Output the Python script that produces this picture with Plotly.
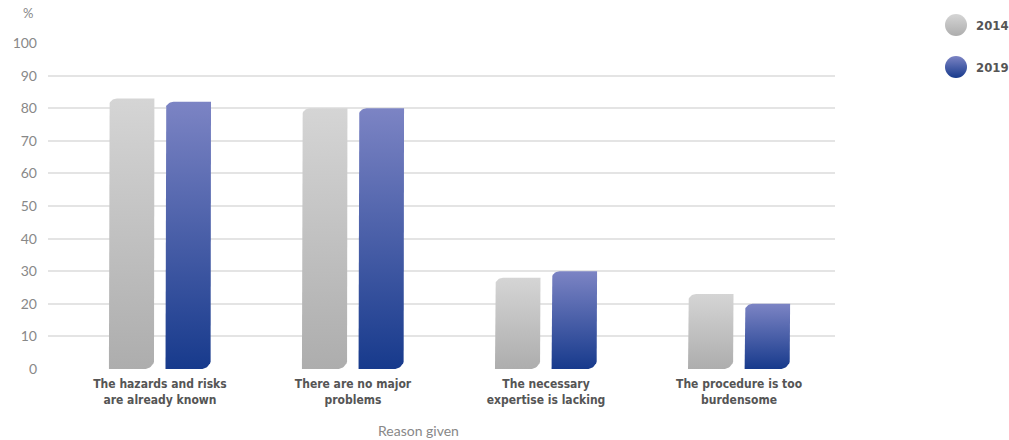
import numpy as np
import plotly.graph_objects as go

categories = ["The hazards and risks<br>are already known",
              "There are no major<br>problems",
              "The necessary<br>expertise is lacking",
              "The procedure is too<br>burdensome"]
years = ["2014", "2019"]
values_2014 = [83, 80, 28, 23]
values_2019 = [82, 80, 30, 20]
y_ticks = [0, 10, 20, 30, 40, 50, 60, 70, 80, 90, 100]

W, H = 1009, 440
ML, MR, MT, MB = 48, 0, 10, 71
plot_left, plot_right = 48, 835
plot_top, plot_bottom = 43, 369
x_range = [-0.58, 3.497]
y_range = [0, 100]
px_x = (plot_right - plot_left) / (x_range[1] - x_range[0])
px_y = (plot_bottom - plot_top) / (y_range[1] - y_range[0])
pw = W - ML - MR
ph = H - MT - MB

bar_w = 45.5 / px_x
offset = 28.3 / px_x
rad_top = 8
rad_bot = 10

styles = {
    "2014": dict(top="#d5d5d5", bottom="#adadad", mid="#c4c4c4"),
    "2019": dict(top="#7c84c4", bottom="#173a8c", mid="#3a52a3"),
}

COND = "DejaVu Sans Condensed, DejaVu Sans, sans-serif"
REG = "Lato, Open Sans, sans-serif"


def px_to_paper(px, py):
    return (px - ML) / pw, (H - MB - py) / ph


def leaf_path(xc, v):
    x0, x1 = xc - bar_w / 2, xc + bar_w / 2
    rxt, ryt = rad_top / px_x, min(rad_top / px_y, v / 2)
    rxb, ryb = rad_bot / px_x, min(rad_bot / px_y, v / 2)
    xs, ys = [x0], [0]
    t = np.linspace(np.pi, np.pi / 2, 12)
    xs += list(x0 + rxt + rxt * np.cos(t))
    ys += list(v - ryt + ryt * np.sin(t))
    xs += [x1]
    ys += [v]
    t = np.linspace(0, -np.pi / 2, 12)
    xs += list(x1 - rxb + rxb * np.cos(t))
    ys += list(ryb + ryb * np.sin(t))
    xs += [x0]
    ys += [0]
    return xs, ys


fig = go.Figure()
for yr, vals, sign in [("2014", values_2014, -1), ("2019", values_2019, 1)]:
    st = styles[yr]
    for i, v in enumerate(vals):
        xs, ys = leaf_path(i + sign * offset, v)
        fig.add_trace(go.Scatter(
            x=xs, y=ys, mode="lines", fill="toself",
            line=dict(width=0, color=st["mid"]),
            fillcolor=st["mid"],
            fillgradient=dict(type="vertical",
                              colorscale=[[0, st["bottom"]], [1, st["top"]]]),
            name=yr, showlegend=False, hoverinfo="text",
            text=f"{yr}: {v}%", hoveron="fills",
        ))

# legend drawn in an overlay pixel-space subplot
legend_y = [25, 67]
for yr, ly in zip(years, legend_y):
    st = styles[yr]
    fig.add_trace(go.Scatter(
        x=[956], y=[ly], mode="markers", xaxis="x2", yaxis="y2",
        marker=dict(size=22, color=st["top"],
                    gradient=dict(type="vertical", color=st["bottom"]),
                    line=dict(width=0)),
        showlegend=False, hoverinfo="skip", cliponaxis=False,
    ))
    lx, lyp = px_to_paper(974, ly)
    fig.add_annotation(x=lx, y=lyp, xref="paper", yref="paper", text=f"<b>{yr}</b>",
                       showarrow=False, xanchor="left", yanchor="middle",
                       font=dict(family=COND, size=13, color="#555555"))

fig.update_layout(
    width=W, height=H,
    margin=dict(l=ML, r=MR, t=MT, b=MB),
    paper_bgcolor="white", plot_bgcolor="rgba(0,0,0,0)",
    showlegend=False,
    xaxis=dict(domain=[0, (plot_right - plot_left) / pw], range=x_range,
               tickmode="array", tickvals=list(range(len(categories))),
               ticktext=[f"<b>{c}</b>" for c in categories],
               showgrid=False, zeroline=False, showline=False, ticks="",
               ticklabelstandoff=6,
               tickfont=dict(family=COND, size=12, color="#555555"),
               fixedrange=True),
    yaxis=dict(domain=[0, (plot_bottom - plot_top) / ph], range=y_range,
               tickmode="array", tickvals=y_ticks,
               showgrid=True, gridcolor="#e4e4e4", gridwidth=1.5,
               zeroline=False, showline=False, ticks="",
               ticklabelstandoff=10,
               tickfont=dict(family=REG, size=14, color="#888888"),
               fixedrange=True),
    xaxis2=dict(domain=[0, 1], range=[ML, W], anchor="y2", visible=False, fixedrange=True),
    yaxis2=dict(domain=[0, 1], range=[H - MB, MT], anchor="x2", visible=False, fixedrange=True),
)

px_, py_ = px_to_paper(28, 13)
fig.add_annotation(x=px_, y=py_, xref="paper", yref="paper", text="%", showarrow=False,
                   xanchor="center", yanchor="middle",
                   font=dict(family=REG, size=13, color="#888888"))
px_, py_ = px_to_paper(418, 430)
fig.add_annotation(x=px_, y=py_, xref="paper", yref="paper", text="Reason given", showarrow=False,
                   xanchor="center", yanchor="middle",
                   font=dict(family=REG, size=14, color="#888888"))

fig.write_html("out.html", config={"displayModeBar": False},
               post_script="document.body.style.margin='0px';")
